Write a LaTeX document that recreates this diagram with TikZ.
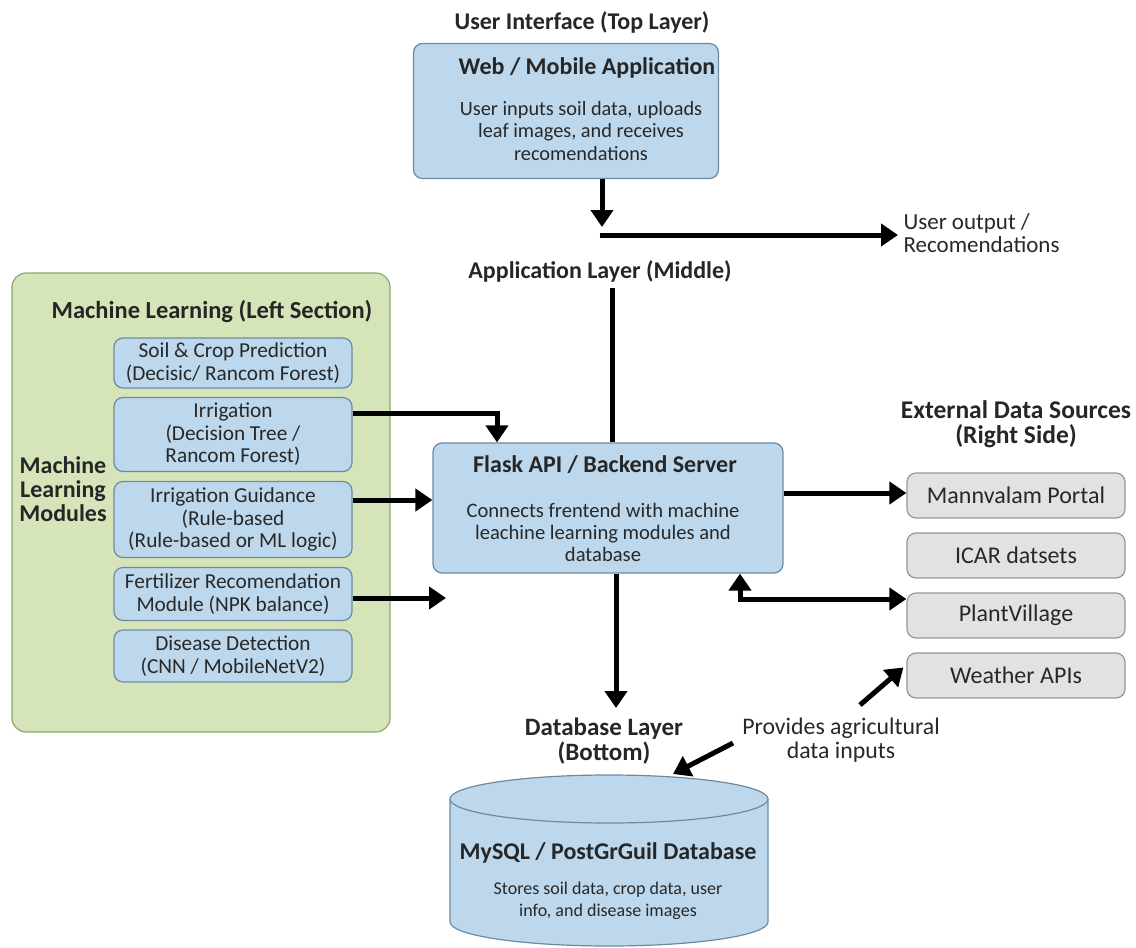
\documentclass[tikz,border=0pt]{standalone}
\usepackage{fontspec}
\setmainfont{Carlito}
\usetikzlibrary{arrows.meta}
\definecolor{boxblue}{RGB}{189,216,236}
\definecolor{boxline}{RGB}{110,138,160}
\definecolor{panelgreen}{RGB}{213,229,185}
\definecolor{panelline}{RGB}{140,168,112}
\definecolor{graybox}{RGB}{226,226,226}
\definecolor{grayline}{RGB}{150,150,150}
\definecolor{txt}{RGB}{40,40,40}
\newcommand{\fs}[2]{\fontsize{#1}{#2}\selectfont}
\begin{document}
\begin{tikzpicture}[x=1pt,y=-1pt,
  bluebox/.style={draw=boxline, fill=boxblue, rounded corners=9pt, line width=1.2pt, inner sep=0pt},
  modbox/.style={bluebox, minimum width=238pt, font=\fs{21.3}{22.5}, align=center, text=txt},
  graysrc/.style={draw=grayline, fill=graybox, rounded corners=9pt, line width=1.2pt, inner sep=0pt,
     minimum width=218pt, minimum height=45pt, font=\fs{24}{26}, text=txt},
  head/.style={font=\fs{24}{24}\bfseries, align=center, text=black!85},
  body/.style={font=\fs{20.3}{22.5}, align=center, text=txt},
  arr/.style={line width=5pt, -{Triangle[length=17pt,width=22pt]}},
  darr/.style={line width=5pt, {Triangle[length=17pt,width=22pt]}-{Triangle[length=17pt,width=22pt]}},
  ln/.style={line width=5pt}
]
\useasboundingbox[fill=white] (0,0) rectangle (1136,948);

% ---------- top layer ----------
\node[head] (uihead) at (582,22) {User Interface (Top Layer)};
\node[bluebox, minimum width=305pt, minimum height=135pt] (web) at (566,111) {};
\node[head] (webtitle) at (587,68) {Web / Mobile Application};
\node[body] (webbody) at (581,131) {User inputs soil data, uploads\\leaf images, and receives\\recomendations};

\coordinate (split) at (602,235);
\draw[arr] (web.south -| split) -- ([yshift=8pt]split);
\node[body, anchor=west, align=left, font=\fs{23}{23}] (uout) at (900,233) {User output /\\Recomendations};
\draw[arr] ([xshift=-2.5pt]split) -- ([xshift=-2pt]uout.west |- split);

\node[head] (applayer) at (600,271) {Application Layer (Middle)};

% ---------- left panel ----------
\node[draw=panelline, fill=panelgreen, rounded corners=14pt, line width=1.2pt,
      minimum width=378pt, minimum height=459pt] (panel) at (201,502.5) {};
\node[head, font=\fs{24.5}{24.5}\bfseries] (mlhead) at (212,311) {Machine Learning (Left Section)};
\node[head] (mlmods) at (63,489) {Machine\\Learning\\Modules};

\node[modbox, minimum height=50pt] (soil) at (233,363) {Soil \& Crop Prediction\\(Decisic/ Rancom Forest)};
\node[modbox, minimum height=74pt] (irr) at (233,434.5) {Irrigation\\(Decision Tree /\\Rancom Forest)};
\node[modbox, minimum height=76pt] (guid) at (233,519.5) {Irrigation Guidance\\(Rule-based\\(Rule-based or ML logic)};
\node[modbox, minimum height=53pt] (fert) at (233,594) {Fertilizer Recomendation\\Module (NPK balance)};
\node[modbox, minimum height=52pt] (dis) at (233,656) {Disease Detection\\(CNN / MobileNetV2)};

% ---------- backend ----------
\node[bluebox, minimum width=350pt, minimum height=130pt] (flask) at (608,508) {};
\node[head] (flasktitle) at (605,465) {Flask API / Backend Server};
\node[body, font=\fs{20.6}{22}] (flaskbody) at (603,532) {Connects frentend with machine\\leachine learning modules and\\database};

\draw[ln] (612,288) -- (flask.north -| 612,0);

\draw[arr] (irr.east |- 0,413) -| (flask.north -| 497,0);
\draw[arr] (guid.east |- 0,500) -- (flask.west |- 0,500);
\coordinate (fertend) at (446,598);
\draw[arr] (fert.east |- fertend) -- (fertend);

% ---------- external sources ----------
\node[head, font=\fs{25.5}{25}\bfseries] (exthead) at (1016,424) {External Data Sources\\(Right Side)};
\node[graysrc] (mann) at (1016,495.5) {Mannvalam Portal};
\node[graysrc] (icar) at (1016,555.5) {ICAR datsets};
\node[graysrc] (pv) at (1016,615.5) {PlantVillage};
\node[graysrc] (wapi) at (1016,675.5) {Weather APIs};

\draw[arr] (flask.east |- 0,493) -- (mann.west |- 0,493);
\draw[darr] (flask.south -| 740,0) |- (pv.west |- 0,599);

% ---------- database ----------
\draw[arr] (flask.south -| 616,0) -- (616,708);
\node[head, font=\fs{25}{25}\bfseries] (dbhead) at (604,741) {Database Layer\\(Bottom)};
\node[body, font=\fs{23.8}{24}] (prov) at (841,740) {Provides agricultural\\data inputs};
\coordinate (wtail) at (860,705);
\draw[arr] (wtail) -- ([yshift=8pt,xshift=-3pt]wapi.west);

\fill[boxblue] (450,799) -- (450,922) arc[start angle=180,end angle=360,x radius=159pt,y radius=24pt] -- (768,799) -- cycle;
\draw[boxline, line width=1.2pt] (450,799) -- (450,922) arc[start angle=180,end angle=360,x radius=159pt,y radius=24pt] -- (768,799);
\draw[boxline, fill=boxblue, line width=1.2pt] (609,799) ellipse[x radius=159pt, y radius=24pt];
\node[minimum width=318pt, minimum height=172pt, inner sep=0pt] (db) at (609,861) {};
\coordinate (dbin) at (673,774);
\coordinate (provtail) at (733,743);
\draw[arr] (provtail) -- (dbin);
\node[head] (dbtitle) at (608,853) {MySQL / PostGrGuil Database};
\node[body, font=\fs{18}{22}] (dbbody) at (608,901) {Stores soil data, crop data, user\\info, and disease images};
\end{tikzpicture}
\end{document}
